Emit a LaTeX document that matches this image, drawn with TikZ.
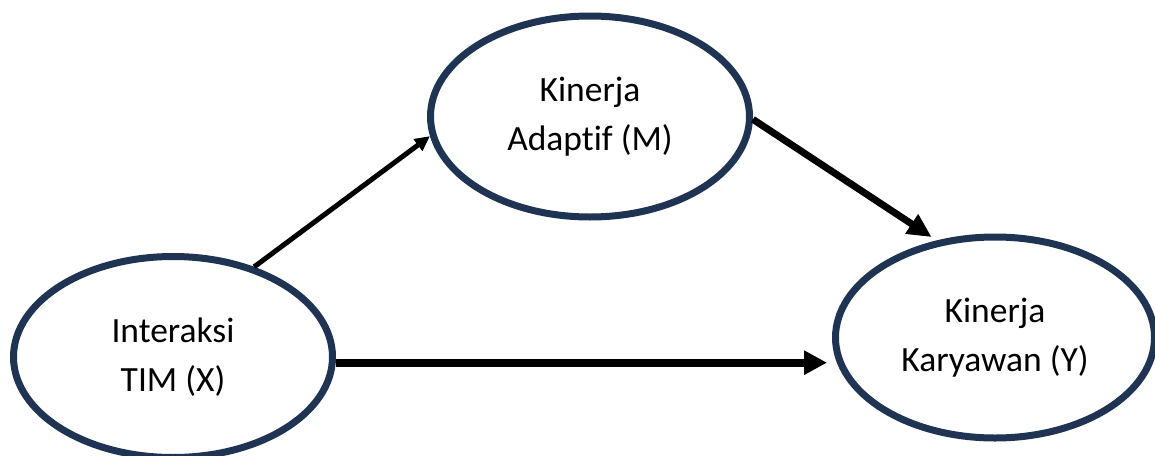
\documentclass[tikz,border=0pt]{standalone}
\usepackage{fontspec}
\setmainfont[RawFeature={-liga;-clig;-dlig}]{Carlito}
\usetikzlibrary{shapes.geometric,arrows.meta}
\definecolor{navy}{RGB}{31,52,82}
\begin{document}
\begin{tikzpicture}[x=1pt,y=-1pt,
  var/.style={draw=navy,line width=7pt,ellipse,minimum width=319pt,minimum height=201pt,
    inner sep=0pt,align=center,font=\fontsize{35.5pt}{49pt}\selectfont},
  thinarrow/.style={line width=5pt,-{Triangle[length=15pt,width=14pt]}},
  thickarrow/.style={line width=7pt,-{Triangle[length=24pt,width=22pt]}},
  widearrow/.style={line width=8pt,-{Triangle[length=23pt,width=23pt]}}]
\useasboundingbox[fill=white] (0,0) rectangle (1155,455);
\node[var] (M) at (590,116.5) {Kinerja\\Adaptif (M)};
\node[var] (X) at (173,357) {Interaksi\\TIM (X)};
\node[var] (Y) at (995,337.5) {Kinerja\\Karyawan (Y)};
\draw[thinarrow] (X.48) -- (M.187);
\draw[thickarrow,shorten >=6pt] (M.-1) -- (Y.121);
\draw[widearrow,shorten >=5pt] (X.-2) -- (X.-2 -| Y.west);
\end{tikzpicture}
\end{document}
